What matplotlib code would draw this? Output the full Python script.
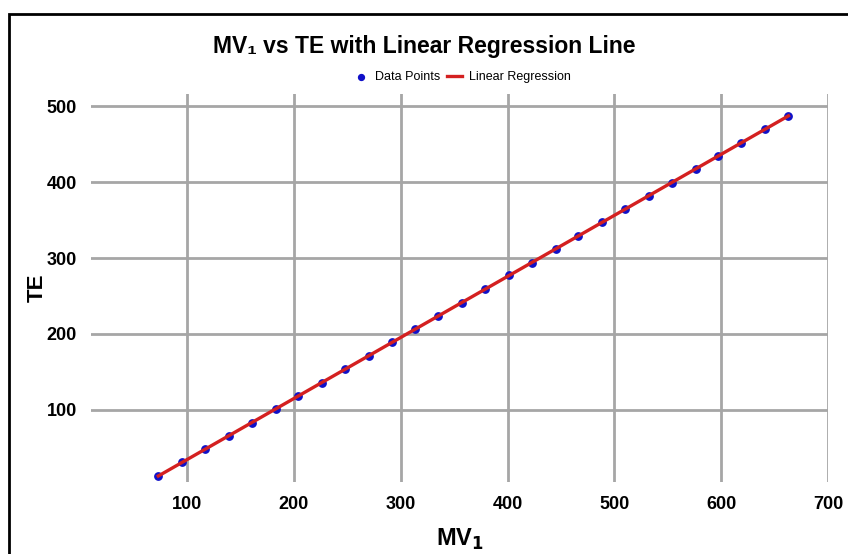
import numpy as np
import matplotlib
matplotlib.use('Agg')
import matplotlib.pyplot as plt
from matplotlib.patches import Rectangle

# data
mv1 = [73, 95, 117, 139, 161, 183, 204, 226, 248, 270, 292, 313, 335, 357,
       379, 401, 423, 445, 466, 488, 510, 532, 554, 576, 597, 619, 641, 663]
te = [13, 31, 48, 66, 83, 101, 118, 136, 154, 171, 189, 206, 224, 241,
      259, 277, 294, 312, 329, 347, 364, 382, 399, 417, 434, 452, 470, 487]
x_ticks = [100, 200, 300, 400, 500, 600, 700]
y_ticks = [100, 200, 300, 400, 500]

plt.rcParams['font.family'] = ['Liberation Sans', 'DejaVu Sans']

fig = plt.figure(figsize=(8.48, 5.54), dpi=100)
ax = fig.add_axes([91/848, 1 - 482/554, (828 - 91)/848, (482 - 94)/554])

# linear fit
slope, icpt = np.polyfit(mv1, te, 1)
xs = np.array([min(mv1), max(mv1)])

ax.scatter(mv1, te, s=28, color='#1010c8', zorder=3, label='Data Points')
ax.plot(xs, slope * xs + icpt, color='#d42020', lw=2.4, zorder=4, label='Linear Regression')

ax.set_xlim(10, 700)
ax.set_ylim(5, 516)
ax.set_xticks(x_ticks)
ax.set_yticks(y_ticks)
ax.grid(True, color='#a6a6a6', lw=2)
ax.set_axisbelow(True)
for s in ax.spines.values():
    s.set_visible(False)
ax.tick_params(length=0, pad=10, labelsize=13)
for lbl in ax.get_xticklabels() + ax.get_yticklabels():
    lbl.set_fontweight('bold')

ax.set_xlabel('MV$_\\mathbf{1}$', fontsize=17, fontweight='bold', labelpad=10)
ax.set_ylabel('TE', fontsize=16, fontweight='bold')
ax.yaxis.set_label_coords((48 - 91) / 737, 0.5)

fig.text(424/848, 1 - 46/554, 'MV\u2081 vs TE with Linear Regression Line',
         ha='center', va='center', fontsize=16.5, fontweight='bold')

fig.legend(loc='center', bbox_to_anchor=(462/848, 1 - 77/554), ncol=2,
           frameon=False, fontsize=9, handlelength=1.2, handletextpad=0.5,
           columnspacing=0.6, markerscale=0.8)

# outer frame of the picture
fig.add_artist(Rectangle((9/848, -0.1), 1.2, 1.1 - 14/554,
                         transform=fig.transFigure, fill=False,
                         edgecolor='black', lw=2))

fig.savefig('out.png', dpi=100)
